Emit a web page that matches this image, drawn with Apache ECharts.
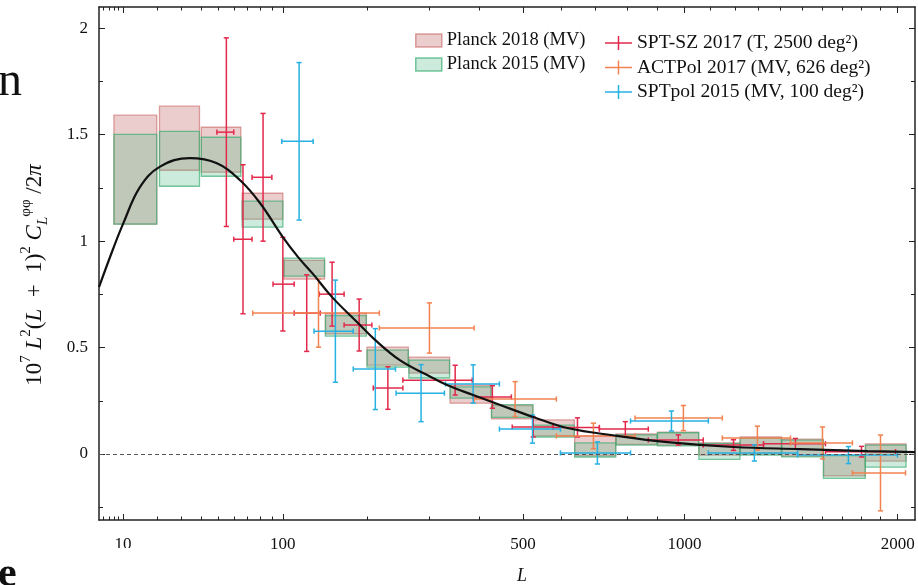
<!DOCTYPE html>
<html>
<head>
<meta charset="utf-8">
<script src="https://cdn.jsdelivr.net/npm/echarts@6/dist/echarts.min.js"></script>
<style>
html, body { margin: 0; padding: 0; background: #fff; }
#chart { width: 918px; height: 585px; }
</style>
</head>
<body>
<div id="chart"></div>
<script>
// 横轴按 L^0.4 缩放
var P = 0.4;
function f(L) { return Math.pow(L, P); }

var L_MIN = 5.26, L_MAX = 2100;
var xMajor = [10, 100, 500, 1000, 2000];
var xMinor = [6, 7, 8, 9, 20, 30, 40, 50, 60, 70, 80, 90, 200, 300, 400, 600, 700, 800, 900,
	1100, 1200, 1300, 1400, 1500, 1600, 1700, 1800, 1900];
var yMajor = [0, 0.5, 1, 1.5, 2];
var yMinor = [-0.25, 0.25, 0.75, 1.25, 1.75];

// Planck 分箱 (L 范围)
var binLo = [8, 21, 40, 66, 101, 145, 199, 264, 339, 426, 526, 638, 763, 902, 1055, 1222, 1405, 1605, 1822];
var binHi = [20, 39, 65, 100, 144, 198, 263, 338, 425, 525, 637, 762, 901, 1054, 1221, 1404, 1604, 1821, 2048];
// Planck 2018 (MV) 上下界
var p18Lo = [1.080, 1.333, 1.324, 1.103, 0.822, 0.565, 0.418, 0.380, 0.239, 0.165, 0.085, -0.009, 0.045, 0.042, -0.005, 0.000, -0.010, -0.103, -0.033];
var p18Hi = [1.592, 1.634, 1.535, 1.225, 0.910, 0.660, 0.502, 0.455, 0.324, 0.228, 0.160, 0.085, 0.094, 0.103, 0.052, 0.080, 0.070, -0.005, 0.047];
// Planck 2015 (MV) 上下界
var p15Lo = [1.080, 1.258, 1.305, 1.066, 0.836, 0.554, 0.408, 0.357, 0.263, 0.172, 0.080, -0.014, 0.042, 0.038, -0.025, -0.005, -0.013, -0.114, -0.062];
var p15Hi = [1.502, 1.516, 1.488, 1.188, 0.920, 0.650, 0.488, 0.441, 0.315, 0.232, 0.136, 0.052, 0.090, 0.100, 0.050, 0.075, 0.065, -0.008, 0.042];

// 理论曲线
var thL = [5.26, 7.8, 10, 14.5, 21.2, 34, 49, 64.5, 80, 100, 115, 131, 153, 185, 211, 249, 296, 333, 386, 446, 526, 617, 767, 937, 1194, 1492, 1834, 2100];
var thY = [0.784, 0.962, 1.08, 1.254, 1.35, 1.39, 1.366, 1.286, 1.178, 1.019, 0.925, 0.845, 0.737, 0.62, 0.535, 0.441, 0.371, 0.324, 0.277, 0.230, 0.174, 0.122, 0.085, 0.056, 0.033, 0.023, 0.014, 0.009];

// SPT-SZ 2017
var sptszL   = [55, 66.6, 82.4, 100, 124, 153, 188, 230, 349, 428, 526, 646, 793, 977, 1194, 1469, 1801];
var sptszLo  = [49, 60, 73.5, 91, 111, 138, 168, 208, 254, 386, 474, 578, 711, 870, 1072, 1323, 1615];
var sptszHi  = [60, 73.5, 90, 111, 139, 168, 206, 254, 384, 472, 578, 711, 870, 1072, 1323, 1615, 1988];
var sptszY   = [1.512, 1.009, 1.300, 0.798, 0.662, 0.751, 0.606, 0.310, 0.347, 0.268, 0.127, 0.125, 0.117, 0.066, 0.042, 0.048, 0.011];
var sptszErr = [0.443, 0.35, 0.30, 0.22, 0.18, 0.15, 0.122, 0.10, 0.07, 0.053, 0.047, 0.045, 0.035, 0.024, 0.025, 0.025, 0.025];

// ACTPol 2017
var actL   = [137, 300, 481, 693, 996, 1296, 1600, 1904];
var actLo  = [74, 217, 388, 587, 825, 1148, 1446, 1753];
var actHi  = [217, 388, 587, 825, 1148, 1446, 1753, 2045];
var actY   = [0.662, 0.592, 0.258, 0.085, 0.169, 0.075, 0.052, -0.089];
var actErr = [0.16, 0.118, 0.082, 0.06, 0.059, 0.056, 0.075, 0.178];

// SPTpol 2015
var sptpolL   = [116, 157, 211, 285, 386, 524, 705, 952, 1283, 1732];
var sptpolLo  = [99, 132, 180, 243, 330, 444, 598, 810, 1092, 1479];
var sptpolHi  = [131, 180, 242, 328, 444, 598, 810, 1092, 1479, 1999];
var sptpolY   = [1.469, 0.577, 0.399, 0.286, 0.329, 0.117, 0.005, 0.155, 0.005, -0.005];
var sptpolErr = [0.37, 0.24, 0.19, 0.134, 0.09, 0.066, 0.052, 0.047, 0.038, 0.04];

var FONT = 'Liberation Serif';
var RED = '#e2294b', ORANGE = '#f2824f', BLUE = '#27b0e2';
var PINK_FILL = 'rgba(188,88,88,0.3)', PINK_LINE = 'rgba(200,100,100,0.6)';
var GREEN_FILL = 'rgba(88,188,138,0.3)', GREEN_LINE = 'rgba(60,175,115,0.7)';

function boxData(lo, hi) {
	return binLo.map(function (l, i) { return [f(l), f(binHi[i]), lo[i], hi[i]]; });
}
function barData(L, Lo, Hi, Y, E) {
	return L.map(function (l, i) { return [f(l), Y[i], E[i], f(Lo[i]), f(Hi[i])]; });
}

function renderBox(fill, stroke) {
	return function (params, api) {
		var a = api.coord([api.value(0), api.value(3)]);
		var b = api.coord([api.value(1), api.value(2)]);
		return {
			type: 'rect',
			shape: { x: a[0], y: a[1], width: b[0] - a[0], height: b[1] - a[1] },
			style: { fill: fill, stroke: stroke, lineWidth: 1.3 }
		};
	};
}

function renderBar(color) {
	return function (params, api) {
		var x = api.value(0), y = api.value(1), e = api.value(2);
		var c = api.coord([x, y]);
		var t = api.coord([x, y + e]);
		var b = api.coord([x, y - e]);
		var l = api.coord([api.value(3), y]);
		var r = api.coord([api.value(4), y]);
		var cap = 2.6;
		var st = { stroke: color, lineWidth: 1.5 };
		function seg(x1, y1, x2, y2) {
			return { type: 'line', shape: { x1: x1, y1: y1, x2: x2, y2: y2 }, style: st };
		}
		return {
			type: 'group',
			children: [
				seg(c[0], t[1], c[0], b[1]),
				seg(c[0] - cap, t[1], c[0] + cap, t[1]),
				seg(c[0] - cap, b[1], c[0] + cap, b[1]),
				seg(l[0], c[1], r[0], c[1]),
				seg(l[0], c[1] - cap, l[0], c[1] + cap),
				seg(r[0], c[1] - cap, r[0], c[1] + cap)
			]
		};
	};
}

function xAx(pos, ticks, len, withLabel, withLine) {
	return {
		type: 'value', position: pos, min: f(L_MIN), max: f(L_MAX),
		axisLine: { show: withLine, onZero: false, lineStyle: { color: '#222', width: 1.5 } },
		axisTick: { show: true, inside: true, length: len, customValues: ticks.map(f), lineStyle: { color: '#222', width: 1 } },
		axisLabel: {
			show: withLabel, customValues: ticks.map(f), margin: 16,
			fontFamily: FONT, fontSize: 17, color: '#111',
			formatter: function (v) { return String(Math.round(Math.pow(v, 1 / P))); }
		},
		splitLine: { show: false }
	};
}
function yAx(pos, ticks, len, withLabel, withLine) {
	return {
		type: 'value', position: pos, min: -0.31, max: 2.1,
		axisLine: { show: withLine, onZero: false, lineStyle: { color: '#222', width: 1.5 } },
		axisTick: { show: true, inside: true, length: len, customValues: ticks, lineStyle: { color: '#222', width: 1 } },
		axisLabel: {
			show: withLabel, customValues: ticks, margin: 11,
			fontFamily: FONT, fontSize: 17, color: '#111',
			formatter: function (v) { return String(+v.toFixed(2)); }
		},
		splitLine: { show: false }
	};
}

var crossIcon = 'path://M0,6.25H27V7.75H0Z M12.75,0H14.25V14H12.75Z';

var option = {
	animation: false,
	backgroundColor: '#fff',
	grid: { left: 99, right: 3, top: 7, bottom: 65 },
	xAxis: [
		xAx('bottom', xMajor, 6, true, true),
		xAx('bottom', xMinor, 3.5, false, false),
		xAx('top', xMajor, 6, false, true),
		xAx('top', xMinor, 3.5, false, false)
	],
	yAxis: [
		yAx('left', yMajor, 6, true, true),
		yAx('left', yMinor, 4, false, false),
		yAx('right', yMajor, 6, false, true),
		yAx('right', yMinor, 4, false, false)
	],
	legend: [{
		orient: 'vertical', left: 410, top: 26, itemWidth: 26, itemHeight: 13, itemGap: 5,
		selectedMode: false,
		textStyle: { fontFamily: FONT, fontSize: 18.5, lineHeight: 18, color: '#111' },
		data: [
			{ name: 'Planck 2018 (MV)', icon: 'rect', itemStyle: { color: PINK_FILL, borderColor: PINK_LINE, borderWidth: 1.5 } },
			{ name: 'Planck 2015 (MV)', icon: 'rect', itemStyle: { color: GREEN_FILL, borderColor: GREEN_LINE, borderWidth: 1.5 } }
		]
	}, {
		orient: 'vertical', left: 600, top: 28, itemWidth: 27, itemHeight: 14, itemGap: 4.5,
		selectedMode: false,
		textStyle: { fontFamily: FONT, fontSize: 19.5, lineHeight: 18, color: '#111' },
		data: [
			{ name: 'SPT-SZ 2017 (T, 2500 deg²)', icon: crossIcon, itemStyle: { color: RED } },
			{ name: 'ACTPol 2017 (MV, 626 deg²)', icon: crossIcon, itemStyle: { color: ORANGE } },
			{ name: 'SPTpol 2015 (MV, 100 deg²)', icon: crossIcon, itemStyle: { color: BLUE } }
		]
	}],
	series: [{
		name: 'Planck 2018 (MV)', type: 'custom', itemStyle: { color: PINK_FILL },
		renderItem: renderBox(PINK_FILL, PINK_LINE), data: boxData(p18Lo, p18Hi),
		encode: { x: [0, 1], y: [2, 3] },
		markLine: {
			silent: true, symbol: ['none', 'none'], label: { show: false },
			lineStyle: { type: [4, 3], color: '#555', width: 1.2 },
			data: [{ yAxis: 0 }]
		}
	}, {
		name: 'Planck 2015 (MV)', type: 'custom', itemStyle: { color: GREEN_FILL },
		renderItem: renderBox(GREEN_FILL, GREEN_LINE), data: boxData(p15Lo, p15Hi),
		encode: { x: [0, 1], y: [2, 3] }
	}, {
		name: 'theory', type: 'line', smooth: 0.4, showSymbol: false,
		lineStyle: { color: '#111', width: 2.2 },
		data: thL.map(function (l, i) { return [f(l), thY[i]]; })
	}, {
		name: 'SPT-SZ 2017 (T, 2500 deg²)', type: 'custom', itemStyle: { color: RED },
		renderItem: renderBar(RED), data: barData(sptszL, sptszLo, sptszHi, sptszY, sptszErr),
		encode: { x: 0, y: 1 }
	}, {
		name: 'ACTPol 2017 (MV, 626 deg²)', type: 'custom', itemStyle: { color: ORANGE },
		renderItem: renderBar(ORANGE), data: barData(actL, actLo, actHi, actY, actErr),
		encode: { x: 0, y: 1 }
	}, {
		name: 'SPTpol 2015 (MV, 100 deg²)', type: 'custom', itemStyle: { color: BLUE },
		renderItem: renderBar(BLUE), data: barData(sptpolL, sptpolLo, sptpolHi, sptpolY, sptpolErr),
		encode: { x: 0, y: 1 }
	}],
	graphic: [{
		type: 'text', x: 35, y: 275, rotation: Math.PI / 2,
		style: {
			text: '{n|10}{sp|7}{n| }{i|L}{sp|2}{n|(}{i|L}{n|  +  1)}{sp|2}{n| }{i|C}{sb|L}{sp|φφ}{n| /2}{i|π}',
			align: 'center', verticalAlign: 'middle', fill: '#111',
			rich: {
				n: { fontFamily: FONT, fontSize: 23, lineHeight: 32, verticalAlign: 'middle' },
				i: { fontFamily: FONT, fontSize: 23, fontStyle: 'italic', lineHeight: 32, verticalAlign: 'middle' },
				sp: { fontFamily: FONT, fontSize: 15, lineHeight: 15, verticalAlign: 'top' },
				sb: { fontFamily: FONT, fontSize: 15, fontStyle: 'italic', lineHeight: 15, verticalAlign: 'bottom' }
			}
		}
	}, {
		type: 'text', x: 522, y: 576,
		style: { text: 'L', fontFamily: FONT, fontSize: 18, fontStyle: 'italic', fill: '#111', align: 'center', verticalAlign: 'middle' }
	}, {
		type: 'text', x: -2, y: 106,
		style: { text: 'n', fontFamily: FONT, fontSize: 48, fill: '#111', align: 'left', verticalAlign: 'bottom' }
	}, {
		type: 'text', x: -2, y: 596,
		style: { text: 'e', fontFamily: FONT, fontSize: 42, fontWeight: 'bold', fill: '#111', align: 'left', verticalAlign: 'bottom' }
	}, {
		// 原图中 "10" 的下半部被遮住
		type: 'rect', z: 100, shape: { x: 106, y: 548, width: 36, height: 14 },
		style: { fill: '#fff' }
	}]
};

var myChart = echarts.init(document.getElementById('chart'));
myChart.setOption(option);
</script>
</body>
</html>
